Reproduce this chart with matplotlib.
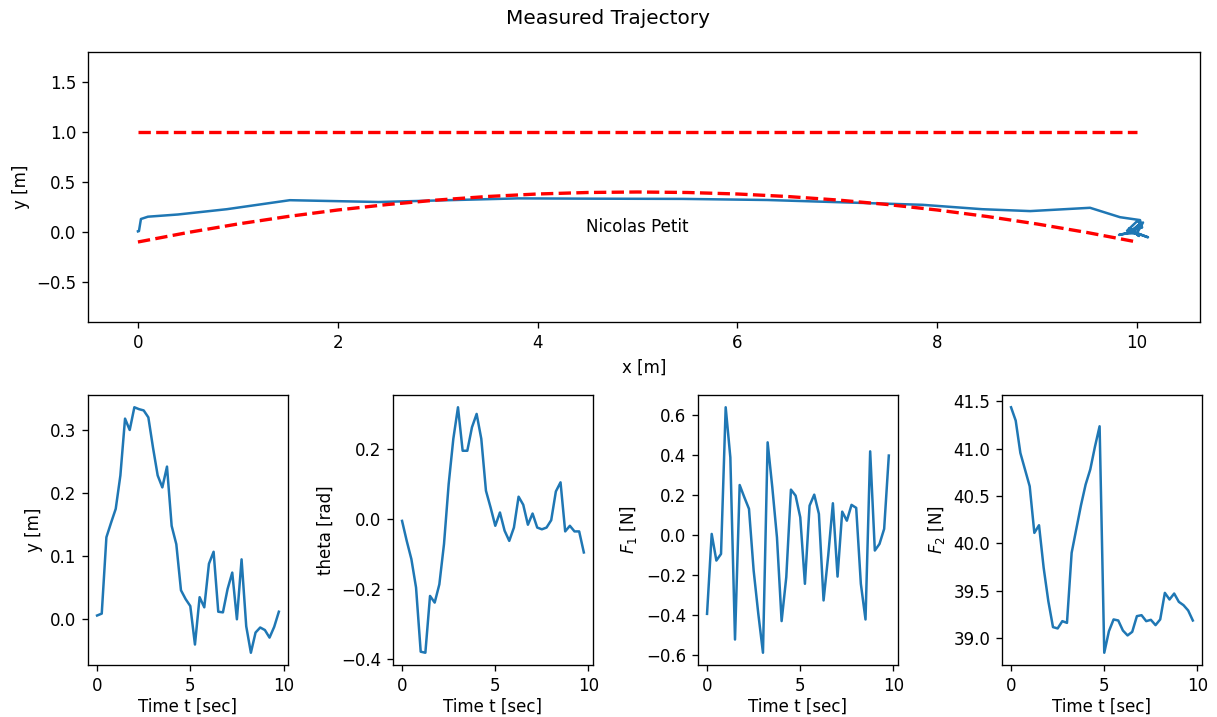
import numpy as np
import matplotlib
matplotlib.use('Agg')
import matplotlib.pyplot as plt
from matplotlib.ticker import MultipleLocator

# Time samples (s)
t = np.arange(0, 10, 0.25)

# Measured states and inputs
y = [0.006, 0.009, 0.13, 0.153, 0.175, 0.228, 0.318, 0.30, 0.336, 0.333,
     0.331, 0.32, 0.272, 0.228, 0.209, 0.242, 0.148, 0.119, 0.046, 0.032,
     0.021, -0.04, 0.035, 0.019, 0.088, 0.107, 0.012, 0.011, 0.048, 0.074,
     0.0, 0.095, -0.011, -0.053, -0.021, -0.013, -0.017, -0.029, -0.012, 0.012]
x = [0.0, 0.01, 0.03, 0.1, 0.4, 0.89, 1.52, 2.41, 3.8, 4.6,
     5.45, 6.3, 7.85, 8.45, 8.93, 9.53, 9.83, 10.03, 10.05, 9.98,
     9.95, 10.02, 9.92, 9.97, 10.04, 10.0, 9.9, 9.95, 10.05, 10.02,
     9.93, 10.06, 10.0, 10.11, 10.02, 9.95, 9.88, 9.82, 9.9, 9.98]
theta = [-0.005, -0.062, -0.114, -0.195, -0.378, -0.381, -0.219, -0.238, -0.186, -0.071,
         0.10, 0.229, 0.319, 0.195, 0.195, 0.262, 0.30, 0.229, 0.081, 0.033,
         -0.019, 0.019, -0.033, -0.062, -0.024, 0.064, 0.041, -0.016, 0.016, -0.024,
         -0.029, -0.024, -0.003, 0.079, 0.105, -0.035, -0.019, -0.035, -0.035, -0.095]
F1 = [-0.394, 0.005, -0.128, -0.095, 0.637, 0.387, -0.522, 0.249, 0.188, 0.13,
      -0.178, -0.394, -0.588, 0.462, 0.238, -0.012, -0.43, -0.211, 0.226, 0.196,
      0.088, -0.244, 0.146, 0.201, 0.105, -0.327, -0.103, 0.158, -0.208, 0.116,
      0.071, 0.15, 0.135, -0.244, -0.422, 0.417, -0.078, -0.045, 0.03, 0.396]
F2 = [41.437, 41.296, 40.954, 40.778, 40.602, 40.109, 40.19, 39.739, 39.387, 39.113,
      39.099, 39.176, 39.158, 39.898, 40.15, 40.4, 40.62, 40.78, 41.02, 41.236,
      38.842, 39.07, 39.194, 39.183, 39.077, 39.025, 39.063, 39.229, 39.239, 39.176,
      39.19, 39.134, 39.194, 39.475, 39.405, 39.468, 39.38, 39.345, 39.289, 39.183]

# Constraint curves
x_bound = [0, 10]
y_upper = [1.0, 1.0]
x_lower = np.arange(0, 10.5, 0.5)
y_lower = [-0.1, -0.005, 0.08, 0.155, 0.22, 0.275, 0.32, 0.355, 0.38, 0.395, 0.4,
           0.395, 0.38, 0.355, 0.32, 0.275, 0.22, 0.155, 0.08, -0.005, -0.1]

dpi = 120
fig = plt.figure(figsize=(1217 / dpi, 717 / dpi), dpi=dpi)
fig.suptitle('Measured Trajectory', y=0.987)

# Trajectory in the plane
ax = fig.add_axes([0.0723, 0.5509, 0.9137, 0.3766])
ax.plot(x, y)
ax.plot(x_bound, y_upper, 'r--', lw=2)
ax.plot(x_lower, y_lower, 'r--', lw=2)
ax.text(5, 0, 'Nicolas Petit', ha='center')
ax.set_xlim(-0.5, 10.63)
ax.set_ylim(-0.9, 1.8)
ax.set_xlabel('x [m]')
ax.set_ylabel('y [m]')

# Time histories
lefts = [0.0723, 0.3229, 0.5735, 0.8233]
series = [y, theta, F1, F2]
ylabels = ['y [m]', 'theta [rad]', '$F_1$ [N]', '$F_2$ [N]']
axs = []
for left, data, lab in zip(lefts, series, ylabels):
    a = fig.add_axes([left, 0.0725, 0.1643, 0.3766])
    a.plot(t, data)
    a.set_xlabel('Time t [sec]', labelpad=2)
    a.set_ylabel(lab)
    axs.append(a)
axs[1].yaxis.set_major_locator(MultipleLocator(0.2))

fig.savefig('out.png', dpi=dpi)
